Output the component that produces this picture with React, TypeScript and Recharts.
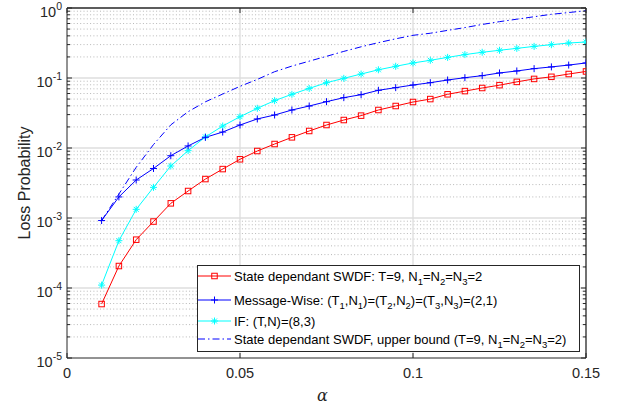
import React from 'react';
import { LineChart, Line, XAxis, YAxis, CartesianGrid, Legend, ReferenceLine } from 'recharts';

const alphaValues = [0.01, 0.015, 0.02, 0.025, 0.03, 0.035, 0.04, 0.045, 0.05, 0.055, 0.06, 0.065, 0.07, 0.075, 0.08, 0.085, 0.09, 0.095, 0.1, 0.105, 0.11, 0.115, 0.12, 0.125, 0.13, 0.135, 0.14, 0.145, 0.15];

const stateDependant = [5.9e-5, 2.06e-4, 4.9e-4, 8.9e-4, 1.62e-3, 2.43e-3, 3.6e-3, 5.0e-3, 6.9e-3, 9.06e-3, 1.14e-2, 1.42e-2, 1.75e-2, 2.13e-2, 2.51e-2, 2.9e-2, 3.49e-2, 3.98e-2, 4.54e-2, 5.0e-2, 5.85e-2, 6.5e-2, 7.2e-2, 7.9e-2, 8.8e-2, 9.7e-2, 0.104, 0.114, 0.124];

const messageWise = [9.2e-4, 2.0e-3, 3.49e-3, 5.1e-3, 7.76e-3, 1.07e-2, 1.42e-2, 1.69e-2, 2.13e-2, 2.6e-2, 2.96e-2, 3.49e-2, 3.98e-2, 4.59e-2, 5.24e-2, 5.78e-2, 6.67e-2, 7.28e-2, 7.94e-2, 8.57e-2, 9.36e-2, 0.101, 0.108, 0.118, 0.126, 0.136, 0.144, 0.153, 0.164];

const ifSeries = [1.1e-4, 4.74e-4, 1.33e-3, 2.74e-3, 5.53e-3, 9.16e-3, 1.44e-2, 2.06e-2, 2.8e-2, 3.69e-2, 4.75e-2, 5.85e-2, 7.1e-2, 8.57e-2, 0.0989, 0.114, 0.131, 0.147, 0.164, 0.179, 0.197, 0.216, 0.233, 0.249, 0.265, 0.283, 0.299, 0.316, 0.327];

const upperBound = [9.2e-4, 2.2e-3, 5.3e-3, 1.12e-2, 2.14e-2, 3.3e-2, 4.57e-2, 5.9e-2, 7.6e-2, 9.55e-2, 0.123, 0.148, 0.174, 0.204, 0.24, 0.279, 0.32, 0.363, 0.407, 0.436, 0.479, 0.525, 0.582, 0.638, 0.692, 0.75, 0.813, 0.861, 0.916];

const xTicks = [0, 0.05, 0.1, 0.15];
const xTickLabels = ['0', '0.05', '0.1', '0.15'];
const yMajorTicks = [1e-5, 1e-4, 1e-3, 1e-2, 1e-1, 1];
const yMinorFactors = [2, 3, 4, 5, 6, 7, 8, 9];

const yMinorTicks: number[] = [];
yMajorTicks.slice(0, -1).forEach((d) => yMinorFactors.forEach((f) => yMinorTicks.push(d * f)));
const yAllTicks = [...yMajorTicks, ...yMinorTicks].sort((a, b) => a - b);

const data = alphaValues.map((a, i) => ({
  alpha: a,
  sd: stateDependant[i],
  mw: messageWise[i],
  iff: ifSeries[i],
  ub: upperBound[i],
}));

const W = 620;
const H = 409;
const MARGIN = { top: 8, right: 34, left: 7, bottom: 0 };
const Y_AXIS_W = 60;
const X_AXIS_H = 51;
const PLOT_LEFT = MARGIN.left + Y_AXIS_W;
const PLOT_RIGHT = W - MARGIN.right;
const PLOT_TOP = MARGIN.top;

const FONT = '"Liberation Sans", Arial, Helvetica, sans-serif';
const AXIS_COLOR = '#262626';
const RED = '#ff0000';
const BLUE = '#0000ff';
const CYAN = '#00ffff';
const DASHDOT = '7 3 1.5 3';

const isMajor = (v: number) => {
  const l = Math.log10(v);
  return Math.abs(l - Math.round(l)) < 1e-6;
};

const LeftYTick = (props: any) => {
  const { y, payload } = props;
  const v = payload.value;
  const major = isMajor(v);
  const len = major ? 5 : 3;
  return (
    <g>
      <line x1={PLOT_LEFT} y1={y} x2={PLOT_LEFT + len} y2={y} stroke={AXIS_COLOR} strokeWidth={1} />
      <line x1={PLOT_RIGHT} y1={y} x2={PLOT_RIGHT - len} y2={y} stroke={AXIS_COLOR} strokeWidth={1} />
      {major && (
        <text x={PLOT_LEFT - 5} y={y + 9} textAnchor="end" fontFamily={FONT} fontSize={14.5} fill={AXIS_COLOR}>
          10
          <tspan dy={-7} fontSize={10.5}>{String(Math.round(Math.log10(v)))}</tspan>
        </text>
      )}
    </g>
  );
};

const BottomXTick = (props: any) => {
  const { x, payload } = props;
  const i = xTicks.indexOf(payload.value);
  const bottom = H - X_AXIS_H;
  return (
    <g>
      <line x1={x} y1={bottom} x2={x} y2={bottom - 5} stroke={AXIS_COLOR} strokeWidth={1} />
      <line x1={x} y1={PLOT_TOP} x2={x} y2={PLOT_TOP + 5} stroke={AXIS_COLOR} strokeWidth={1} />
      <text x={x} y={bottom + 20} textAnchor="middle" fontFamily={FONT} fontSize={14.5} fill={AXIS_COLOR}>
        {i >= 0 ? xTickLabels[i] : String(payload.value)}
      </text>
    </g>
  );
};

const Square = ({ cx, cy, color }: any) => (
  <rect x={cx - 2.75} y={cy - 2.75} width={5.5} height={5.5} fill="none" stroke={color} strokeWidth={1} />
);
const Plus = ({ cx, cy, color }: any) => (
  <path d={`M${cx - 3.5},${cy}H${cx + 3.5}M${cx},${cy - 3.5}V${cy + 3.5}`} stroke={color} strokeWidth={1} fill="none" />
);
const Star = ({ cx, cy, color }: any) => (
  <path
    d={`M${cx - 3.5},${cy}H${cx + 3.5}M${cx},${cy - 3.5}V${cy + 3.5}M${cx - 2.5},${cy - 2.5}L${cx + 2.5},${cy + 2.5}M${cx - 2.5},${cy + 2.5}L${cx + 2.5},${cy - 2.5}`}
    stroke={color}
    strokeWidth={1}
    fill="none"
  />
);

const makeDot = (Shape: any, color: string) => (p: any) => {
  if (p.cx == null || p.cy == null) return <g key={p.key ?? p.index} />;
  return (
    <g key={p.key ?? `d${p.index}`}>
      <Shape cx={p.cx} cy={p.cy} color={color} />
    </g>
  );
};

const legendRows = [
  { color: RED, dash: undefined, marker: Square, y: 11 },
  { color: BLUE, dash: undefined, marker: Plus, y: 35 },
  { color: CYAN, dash: undefined, marker: Star, y: 56 },
  { color: BLUE, dash: DASHDOT, marker: null, y: 74 },
];

const renderLegend = () => (
  <svg width={384} height={88} style={{ display: 'block' }}>
    <rect x={0.5} y={0.5} width={382} height={86} fill="#ffffff" stroke={AXIS_COLOR} strokeWidth={1} />
    {legendRows.map((r, i) => (
      <g key={i}>
        <line x1={1} y1={r.y} x2={34} y2={r.y} stroke={r.color} strokeWidth={1} strokeDasharray={r.dash} />
        {r.marker && <r.marker cx={17.5} cy={r.y} color={r.color} />}
      </g>
    ))}
    <g fontFamily={FONT} fontSize={13} fill="#000000">
      <text x={37} y={15.5}>
        State dependant SWDF: T=9, N<tspan dy={4} fontSize={9.5}>1</tspan><tspan dy={-4}>=N</tspan>
        <tspan dy={4} fontSize={9.5}>2</tspan><tspan dy={-4}>=N</tspan>
        <tspan dy={4} fontSize={9.5}>3</tspan><tspan dy={-4}>=2</tspan>
      </text>
      <text x={37} y={39.5}>
        Message-Wise: (T<tspan dy={4} fontSize={9.5}>1</tspan><tspan dy={-4}>,N</tspan>
        <tspan dy={4} fontSize={9.5}>1</tspan><tspan dy={-4}>)=(T</tspan>
        <tspan dy={4} fontSize={9.5}>2</tspan><tspan dy={-4}>,N</tspan>
        <tspan dy={4} fontSize={9.5}>2</tspan><tspan dy={-4}>)=(T</tspan>
        <tspan dy={4} fontSize={9.5}>3</tspan><tspan dy={-4}>,N</tspan>
        <tspan dy={4} fontSize={9.5}>3</tspan><tspan dy={-4}>)=(2,1)</tspan>
      </text>
      <text x={37} y={60.5}>IF: (T,N)=(8,3)</text>
      <text x={37} y={78.5}>
        State dependant SWDF, upper bound (T=9, N<tspan dy={4} fontSize={9.5}>1</tspan><tspan dy={-4}>=N</tspan>
        <tspan dy={4} fontSize={9.5}>2</tspan><tspan dy={-4}>=N</tspan>
        <tspan dy={4} fontSize={9.5}>3</tspan><tspan dy={-4}>=2)</tspan>
      </text>
    </g>
  </svg>
);

export default function App() {
  return (
    <div style={{ position: 'absolute', left: 0, top: 0, width: W, height: H, background: '#fff' }}>
      <LineChart width={W} height={H} data={data} margin={MARGIN}>
        <XAxis
          xAxisId="x"
          dataKey="alpha"
          type="number"
          domain={[0, 0.15]}
          ticks={xTicks}
          interval={0}
          height={X_AXIS_H}
          tickSize={0}
          tickMargin={0}
          tickLine={false}
          tick={<BottomXTick />}
          axisLine={{ stroke: AXIS_COLOR, strokeWidth: 1 }}
          allowDataOverflow
          label={{ value: 'α', position: 'insideBottom', offset: 8, fontFamily: '"DejaVu Serif", serif', fontStyle: 'italic', fontSize: 16, fill: AXIS_COLOR, dx: -4 }}
        />
        <YAxis
          yAxisId="y"
          scale="log"
          type="number"
          domain={[1e-5, 1]}
          ticks={yAllTicks}
          interval={0}
          width={Y_AXIS_W}
          tickSize={0}
          tickMargin={0}
          tickLine={false}
          tick={<LeftYTick />}
          axisLine={{ stroke: AXIS_COLOR, strokeWidth: 1 }}
          allowDataOverflow
          label={{ value: 'Loss Probability', angle: -90, position: 'insideLeft', offset: 0, dx: 17, fontFamily: FONT, fontSize: 16, fill: AXIS_COLOR, style: { textAnchor: 'middle' } }}
        />
        <CartesianGrid xAxisId="x" yAxisId="y" horizontalValues={yMinorTicks} vertical={false} stroke="#b8b8b8" strokeDasharray="1 2.3" strokeWidth={1} />
        <CartesianGrid xAxisId="x" yAxisId="y" horizontalValues={yMajorTicks.slice(1, -1)} verticalValues={xTicks.slice(1, -1)} stroke="#dedede" strokeWidth={1.3} />
        <ReferenceLine xAxisId="x" yAxisId="y" y={1} stroke={AXIS_COLOR} strokeWidth={1.3} ifOverflow="visible" />
        <ReferenceLine xAxisId="x" yAxisId="y" x={0.15} stroke={AXIS_COLOR} strokeWidth={1.3} ifOverflow="visible" />
        <Line xAxisId="x" yAxisId="y" dataKey="ub" stroke={BLUE} strokeWidth={1} strokeDasharray={DASHDOT} dot={false} activeDot={false} isAnimationActive={false} type="linear" />
        <Line xAxisId="x" yAxisId="y" dataKey="iff" stroke={CYAN} strokeWidth={1} dot={makeDot(Star, CYAN)} activeDot={false} isAnimationActive={false} type="linear" />
        <Line xAxisId="x" yAxisId="y" dataKey="mw" stroke={BLUE} strokeWidth={1} dot={makeDot(Plus, BLUE)} activeDot={false} isAnimationActive={false} type="linear" />
        <Line xAxisId="x" yAxisId="y" dataKey="sd" stroke={RED} strokeWidth={1} dot={makeDot(Square, RED)} activeDot={false} isAnimationActive={false} type="linear" />
        <Legend
          content={renderLegend}
          layout="horizontal"
          verticalAlign="middle"
          align="center"
          wrapperStyle={{ left: 197, top: 265, width: 384, height: 88 }}
        />
      </LineChart>
    </div>
  );
}
